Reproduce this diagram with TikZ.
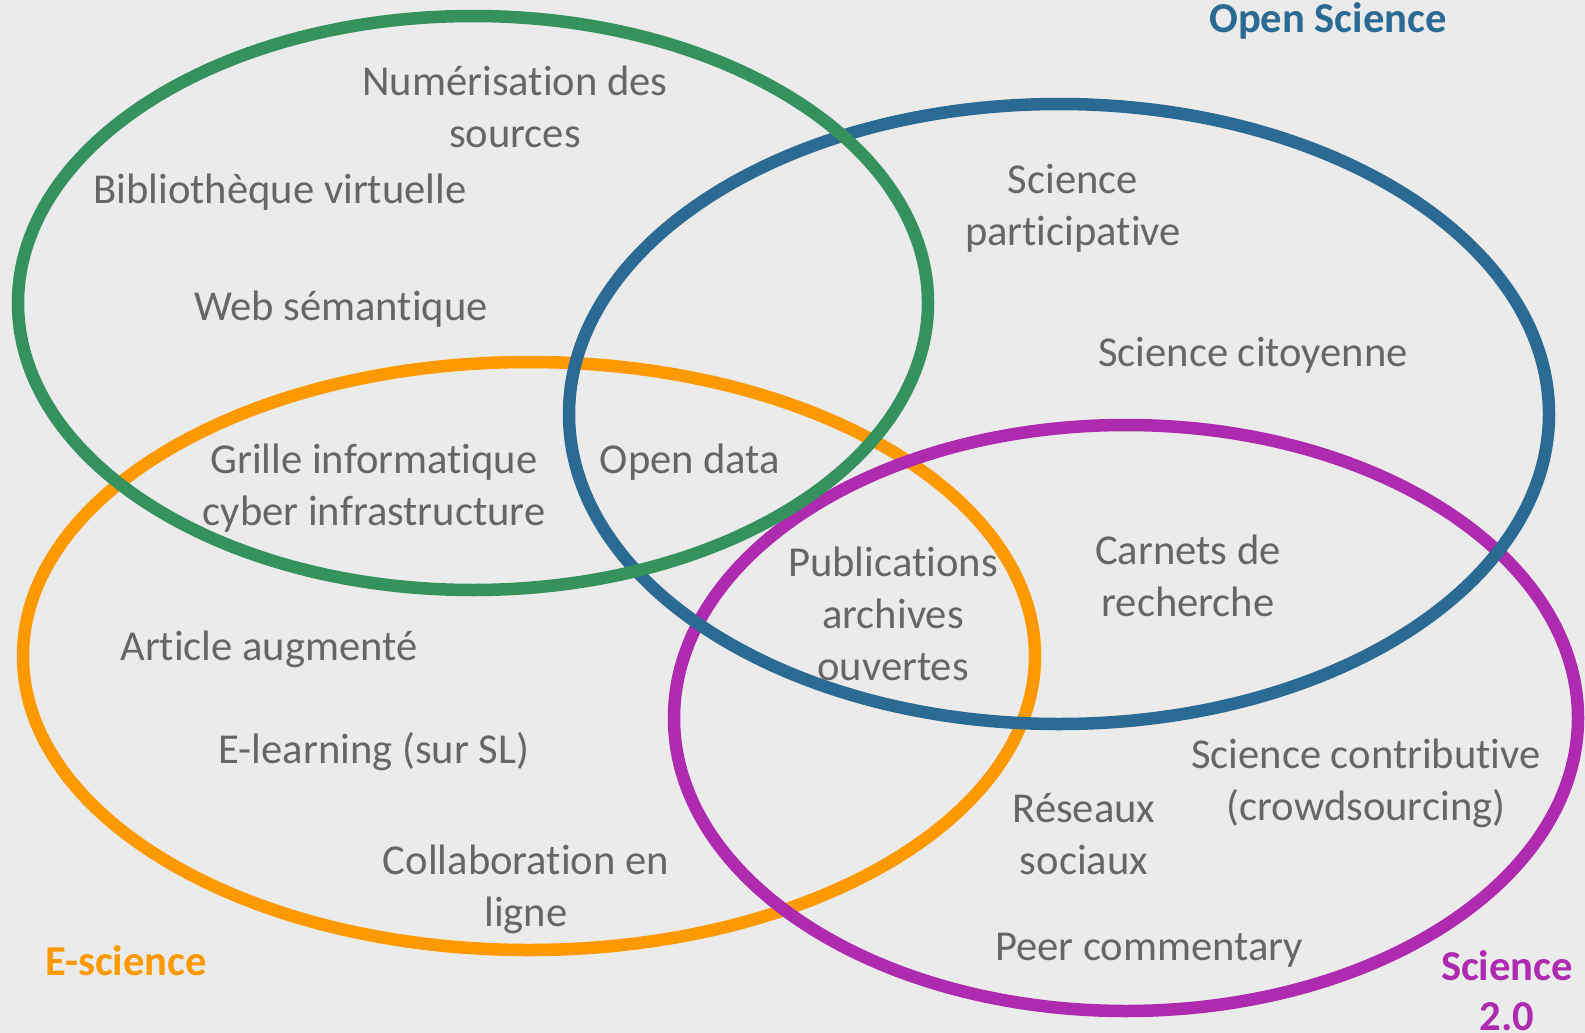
\documentclass[tikz,border=0pt]{standalone}
\usepackage{fontspec}
\setmainfont[Ligatures=NoCommon]{Carlito}
\definecolor{bgc}{HTML}{EBEBEB}
\definecolor{txt}{HTML}{666666}
\definecolor{cgreen}{HTML}{35925C}
\definecolor{cblue}{HTML}{2B6A92}
\definecolor{corange}{HTML}{FF9900}
\definecolor{cmagenta}{HTML}{AE2AAE}
\tikzset{
  ring/.style={line width=12.5pt},
  lbl/.style={text=txt, align=center, inner sep=0pt, font=\fontsize{42.6}{52}\selectfont},
  ttl/.style={align=center, inner sep=0pt, font=\fontsize{42.6}{50}\selectfont\bfseries},
}
\begin{document}
\begin{tikzpicture}[x=1pt,y=-1pt]
\fill[bgc] (0,0) rectangle (1585,1033);
\useasboundingbox (0,0) rectangle (1585,1033);
% ellipses (drawing order: orange, magenta, blue, green)
\draw[ring, corange] (529,656) ellipse [x radius=506, y radius=294];
\draw[ring, cmagenta] (1126,718) ellipse [x radius=452, y radius=293];
\draw[ring, cblue] (1059,414) ellipse [x radius=490, y radius=310];
\draw[ring, cgreen] (473,303) ellipse [x radius=455, y radius=287];
% labels
\node[lbl] (num) at (515,107) {Numérisation des\\sources};
\node[lbl] (bib) at (280,192) {Bibliothèque virtuelle};
\node[lbl] (web) at (341,309) {Web sémantique};
\node[lbl] (gri) at (374,488) {Grille informatique\\cyber infrastructure};
\node[lbl] (od) at (690,462) {Open data};
\node[lbl] (sp) at (1073,208) {Science\\participative};
\node[lbl] (sc) at (1253,355) {Science citoyenne};
\node[lbl] (pub) at (893,614) {Publications\\archives\\ouvertes};
\node[lbl] (car) at (1188,576) {Carnets de\\recherche};
\node[lbl] (art) at (269,649) {Article augmenté};
\node[lbl] (el) at (374,752) {E-learning (sur SL)};
\node[lbl] (col) at (526,889) {Collaboration en\\ligne};
\node[lbl] (scon) at (1366,783) {Science contributive\\(crowdsourcing)};
\node[lbl] (res) at (1084,834) {Réseaux\\sociaux};
\node[lbl] (peer) at (1149,950) {Peer commentary};
% titles
\node[ttl, text=cblue] (os) at (1328,21) {Open Science};
\node[ttl, text=corange] (es) at (126,961) {E-science};
\node[ttl, text=cmagenta] (s20) at (1507,991) {Science\\2.0};
\end{tikzpicture}
\end{document}
